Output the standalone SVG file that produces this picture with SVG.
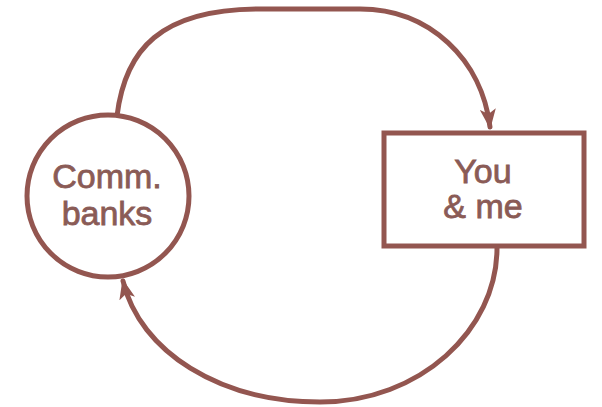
<svg xmlns="http://www.w3.org/2000/svg" width="602" height="407" viewBox="0 0 602 407">
<style>
.ln{fill:none;stroke:#935650;stroke-width:5;stroke-linecap:round}
.nd{fill:#fff;stroke:#935650;stroke-width:5}
.tx{font-family:"Liberation Sans",Arial,sans-serif;font-size:34px;fill:#8a5b56;stroke:#8a5b56;stroke-width:0.8;text-anchor:middle}
</style>
<defs>
<marker id="ah" viewBox="0 0 20 16" refX="18" refY="8" markerWidth="20" markerHeight="16" markerUnits="userSpaceOnUse" orient="auto">
<path d="M0,0 L20,8 L0,16 L5,8 Z" fill="#935650"/>
</marker>
</defs>
<rect width="602" height="407" fill="#fff"/>
<g id="connectors">
<path class="ln" d="M117,116 C125,50 160,9 260,9 L360,9 C430,9 482,60 490,127" marker-end="url(#ah)"/>
<path class="ln" d="M497,248 C497,330 420,402 320,402 C220,402 140,352 123,281" marker-end="url(#ah)"/>
</g>
<g id="comm-banks">
<circle class="nd" cx="108" cy="196" r="81"/>
<text class="tx" x="107" y="188">Comm.</text>
<text class="tx" x="107" y="225">banks</text>
</g>
<g id="you-me">
<rect class="nd" x="384" y="133" width="200" height="113"/>
<text class="tx" x="483" y="183">You</text>
<text class="tx" x="483" y="218">&amp; me</text>
</g>
</svg>
